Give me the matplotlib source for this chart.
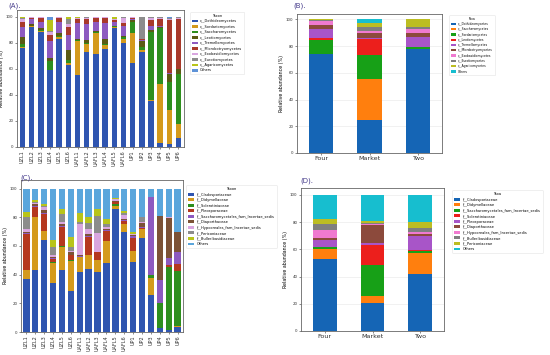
import matplotlib
matplotlib.use("Agg")
import matplotlib.pyplot as plt
import numpy as np

# ---------------- data ----------------
samples = ["UZL1", "UZL2", "UZL3", "UZL4", "UZL5", "UZL6",
           "UAFL1", "UAFL2", "UAFL3", "UAFL4", "UAFL5", "UAFL6",
           "UP1", "UP2", "UP3", "UP4", "UP5", "UP6"]
groups = ["Four", "Market", "Two"]

# (A) class level per sample
class_taxa_A = ["c__Dothideomycetes", "c__Sordariomycetes", "c__Saccharomycetes",
                "c__Leotiomycetes", "c__Tremellomycetes", "c__Microbotryomycetes",
                "c__Exobasidiomycetes", "c__Eurotiomycetes", "c__Agaricomycetes", "Others"]
dothideomycetes_A = [76, 92, 88, 59, 83, 63, 55, 73, 71, 75, 91, 80, 64, 73, 35, 3, 2, 7]
sordariomycetes_A = [1, 1, 1, 0, 1, 1, 26, 6, 16, 3, 1, 3, 23, 1, 1, 45, 26, 11]
saccharomycetes_A = [2, 0, 1, 7, 1, 3, 1, 1, 1, 1, 1, 1, 9, 3, 52, 43, 22, 38]
leotiomycetes_A = [5, 1, 1, 2, 2, 7, 1, 2, 1, 4, 0, 1, 1, 4, 2, 1, 6, 4]
tremellomycetes_A = [8, 4, 5, 13, 9, 12, 12, 12, 7, 12, 3, 8, 1, 1, 3, 1, 1, 0]
microbotryomycetes_A = [4, 1, 3, 5, 3, 6, 3, 4, 3, 4, 1, 2, 1, 1, 4, 5, 40, 38]
exobasidiomycetes_A = [2, 1, 1, 2, 1, 2, 1, 1, 1, 1, 1, 4, 1, 0, 2, 1, 1, 1]
eurotiomycetes_A = [1, 0, 0, 1, 0, 4, 0, 1, 0, 0, 0, 1, 0, 17, 1, 1, 1, 1]
agaricomycetes_A = [1, 0, 0, 8, 0, 2, 1, 0, 0, 0, 2, 0, 0, 0, 0, 0, 0, 0]
others_A = [0, 0, 0, 3, 0, 0, 0, 0, 0, 0, 0, 0, 0, 0, 0, 0, 1, 0]

# (B) class level per group
class_taxa_B = ["c__Dothideomycetes", "c__Saccharomycetes", "c__Sordariomycetes",
                "c__Leotiomycetes", "c__Tremellomycetes", "c__Microbotryomycetes",
                "c__Exobasidiomycetes", "c__Eurotiomycetes", "c__Agaricomycetes", "Others"]
dothideomycetes_B = [74, 25, 77.5]
saccharomycetes_B = [0, 30, 0]
sordariomycetes_B = [10.5, 18, 1.5]
leotiomycetes_B = [1.5, 12, 0]
tremellomycetes_B = [7, 1, 7.5]
microbotryomycetes_B = [3, 3.5, 3.5]
exobasidiomycetes_B = [3, 2, 2.5]
eurotiomycetes_B = [0.5, 3, 1.5]
agaricomycetes_B = [0.5, 3, 6]
others_B = [0, 2.5, 0]

# (C) family level per sample
family_taxa_C = ["f__Cladosporiaceae", "f__Didymellaceae", "f__Sclerotiniaceae",
                 "f__Pleosporaceae", "f__Saccharomycetales_fam_Incertae_sedis",
                 "f__Diaporthaceae", "f__Hypocreales_fam_Incertae_sedis",
                 "f__Periconiaceae", "f__Bulleribasidiaceae", "Others"]
cladosporiaceae_C = [37, 43, 64.5, 34, 43, 28.5, 42, 44, 42, 48, 86, 69.5, 48.5, 65.5, 26, 3, 1.5, 3.5]
didymellaceae_C = [6, 37, 6, 14, 16, 21, 10, 10, 8, 15.5, 2, 6, 8, 6, 12, 0, 0, 1]
sclerotiniaceae_C = [0.5, 0, 0, 1, 1, 1, 0, 0, 0, 0, 1, 0, 0, 0, 2, 17, 44, 38]
pleosporaceae_C = [25, 7, 11.5, 2, 13, 3, 0.5, 12, 6, 7, 1.5, 2, 9, 1, 0, 0, 1, 5]
saccharomycetales_C = [0.5, 1, 1, 0.5, 1, 0.5, 0.5, 1, 0, 0.5, 0.5, 0.5, 1.5, 0.5, 54, 16, 5, 8]
diaporthaceae_C = [1, 1, 2, 0.5, 1, 1.5, 0.5, 1, 0, 0.5, 0.5, 1, 0.5, 3, 0, 45, 28, 14]
hypocreales_C = [2, 1, 2, 2, 2, 1, 22, 4, 13, 2, 1, 2.5, 0.5, 1, 0, 0, 0.5, 0.5]
periconiaceae_C = [8, 1, 1, 5, 5, 3, 1, 4, 12, 2, 0.5, 1.5, 0.5, 3, 0, 0, 0, 0]
bulleribasidiaceae_C = [4, 1, 1.5, 5, 4, 6.5, 6.5, 4, 5, 3.5, 0.5, 1.5, 1, 0.5, 0, 0, 0, 0]
others_C = [16, 8, 10.5, 36, 14, 34, 17, 20, 14, 21, 6.5, 15.5, 30.5, 19.5, 6, 19, 20, 30]

# (D) family level per group
family_taxa_D = ["f__Cladosporiaceae", "f__Didymellaceae",
                 "f__Saccharomycetales_fam_Incertae_sedis", "f__Sclerotiniaceae",
                 "f__Pleosporaceae", "f__Diaporthaceae", "f__Hypocreales_fam_Incertae_sedis",
                 "f__Bulleribasidiaceae", "f__Periconiaceae", "Others"]
cladosporiaceae_D = [53, 20.5, 42]
didymellaceae_D = [7, 5.5, 15]
saccharomycetales_D = [1.5, 22.5, 1.5]
sclerotiniaceae_D = [0.5, 14.5, 1]
pleosporaceae_D = [5, 1.5, 10]
diaporthaceae_D = [1.5, 13, 1.5]
hypocreales_D = [6, 1, 2]
bulleribasidiaceae_D = [4, 0.5, 2.5]
periconiaceae_D = [4, 1.5, 4.5]
others_D = [17.5, 19.5, 20]

# ---------------- styles ----------------
colors_AC = ["#2f55b0", "#d49a1c", "#2e8f1e", "#b5381f", "#8d5ac0",
             "#7c5236", "#d9a6e0", "#8c8c8c", "#b8c41a", "#5aa6dc"]
colors_A = ["#2f55b0", "#d49a1c", "#2e8f1e", "#5a5a14", "#8d5ac0",
            "#a8392a", "#d9a6e0", "#8c8c8c", "#b8c41a", "#5f93d8"]
colors_BD = ["#1565b5", "#ff7f0e", "#17a017", "#ec1f1c", "#a855c8",
             "#8c4a3c", "#f07ad0", "#7f7f7f", "#bcbd22", "#17becf"]

title_color = "#44398a"

fig = plt.figure(figsize=(5.5, 3.55), dpi=100)


def stacked(ax, labels, series, names, colors, width):
    x = np.arange(len(labels))
    bottom = np.zeros(len(labels))
    for vals, name, col in zip(series, names, colors):
        v = np.array(vals, dtype=float)
        ax.bar(x, v, width, bottom=bottom, color=col, label=name, zorder=2)
        bottom += v
    ax.set_xticks(x)
    for s in ax.spines.values():
        s.set_color("#666666")
        s.set_linewidth(0.6)
    ax.tick_params(axis="both", length=1.5, width=0.4, pad=1, colors="#333333")
    return x


def legend(ax, title, pos, fs=2.5):
    leg = ax.legend(loc="upper left", bbox_to_anchor=pos, bbox_transform=fig.transFigure,
                    fontsize=fs, title=title, title_fontsize=fs, frameon=True,
                    handlelength=1.8, handleheight=0.8, handletextpad=0.6,
                    labelspacing=0.42, borderpad=0.55, borderaxespad=0, fancybox=True)
    leg.get_frame().set_edgecolor("#dddddd")
    leg.get_frame().set_linewidth(0.4)


# (A)
axA = fig.add_axes([17/550, 1-147/355, 167/550, 137/355])
seriesA = [dothideomycetes_A, sordariomycetes_A, saccharomycetes_A, leotiomycetes_A,
           tremellomycetes_A, microbotryomycetes_A, exobasidiomycetes_A,
           eurotiomycetes_A, agaricomycetes_A, others_A]
stacked(axA, samples, seriesA, class_taxa_A, colors_A, 0.6)
axA.set_xlim(-0.6, len(samples) - 0.4)
axA.set_ylim(0, 105)
axA.set_yticks([0, 20, 40, 60, 80, 100])
axA.set_xticklabels(samples, rotation=90, fontsize=3.6)
axA.tick_params(axis="y", labelsize=2.8)
axA.set_ylabel("Relative abundance (%)", fontsize=3.4, labelpad=1.5)
legend(axA, "Taxon", (190/550, 1-12/355))
fig.text(8/550, 1-6/355, "(A).", fontsize=5, color=title_color, va="center")

# (B)
axB = fig.add_axes([297/550, 1-153/355, 145/550, 139/355])
seriesB = [dothideomycetes_B, saccharomycetes_B, sordariomycetes_B, leotiomycetes_B,
           tremellomycetes_B, microbotryomycetes_B, exobasidiomycetes_B,
           eurotiomycetes_B, agaricomycetes_B, others_B]
stacked(axB, groups, seriesB, class_taxa_B, colors_BD, 0.5)
axB.set_xlim(-0.5, 2.5)
axB.set_ylim(0, 104)
axB.set_yticks([0, 20, 40, 60, 80, 100])
axB.set_xticklabels(groups, fontsize=4.6)
axB.tick_params(axis="y", labelsize=2.8)
axB.set_ylabel("Relative abundance (%)", fontsize=3.4, labelpad=1.5)
axB.grid(axis="y", color="#e6e6e6", linewidth=0.4, zorder=0)
axB.set_axisbelow(True)
legend(axB, "Taxa", (449/550, 1-15/355), fs=2.2)
fig.text(293/550, 1-6/355, "(B).", fontsize=5, color=title_color, va="center")

# (C)
axC = fig.add_axes([21/550, 1-332/355, 162/550, 152/355])
seriesC = [cladosporiaceae_C, didymellaceae_C, sclerotiniaceae_C, pleosporaceae_C,
           saccharomycetales_C, diaporthaceae_C, hypocreales_C, periconiaceae_C,
           bulleribasidiaceae_C, others_C]
stacked(axC, samples, seriesC, family_taxa_C, colors_AC, 0.72)
axC.set_xlim(-0.6, len(samples) - 0.4)
axC.set_ylim(0, 106)
axC.set_yticks([0, 20, 40, 60, 80, 100])
axC.set_xticklabels(samples, rotation=90, fontsize=3.6)
axC.tick_params(axis="y", labelsize=2.8)
axC.set_ylabel("Relative abundance (%)", fontsize=3.4, labelpad=1.5)
legend(axC, "Taxon", (186/550, 1-185/355), fs=2.6)
fig.text(20/550, 1-178/355, "(C).", fontsize=5, color=title_color, va="center")

# (D)
axD = fig.add_axes([301/550, 1-331/355, 143/550, 143/355])
seriesD = [cladosporiaceae_D, didymellaceae_D, saccharomycetales_D, sclerotiniaceae_D,
           pleosporaceae_D, diaporthaceae_D, hypocreales_D, bulleribasidiaceae_D,
           periconiaceae_D, others_D]
stacked(axD, groups, seriesD, family_taxa_D, colors_BD, 0.5)
axD.set_xlim(-0.5, 2.5)
axD.set_ylim(0, 105)
axD.set_yticks([0, 20, 40, 60, 80, 100])
axD.set_xticklabels(groups, fontsize=4.6)
axD.tick_params(axis="y", labelsize=2.8)
axD.set_ylabel("Relative abundance (%)", fontsize=3.4, labelpad=1.5)
axD.grid(axis="y", color="#e6e6e6", linewidth=0.4, zorder=0)
axD.set_axisbelow(True)
legend(axD, "Taxa", (452/550, 1-190/355), fs=2.6)
fig.text(300/550, 1-181/355, "(D).", fontsize=5, color=title_color, va="center")

fig.savefig("out.png", dpi=100)
